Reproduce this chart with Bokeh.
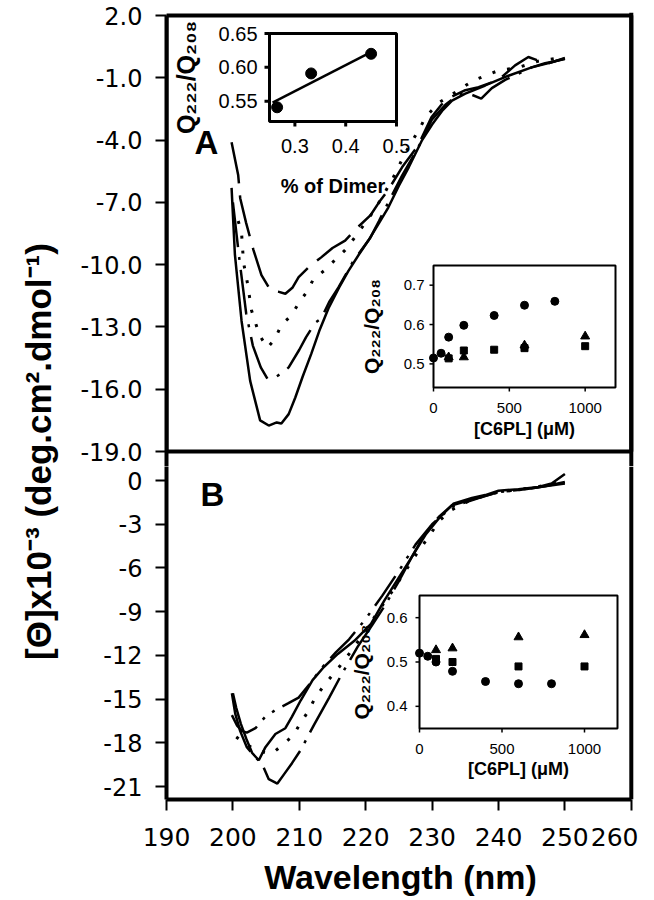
import math
from bokeh.plotting import figure
from bokeh.models import Range1d, FixedTicker, NumeralTickFormatter, Span, BoxAnnotation
from bokeh.layouts import row, column
from bokeh.core.properties import value
from bokeh.embed import file_html
from bokeh.resources import INLINE

FONT = "Liberation Sans"
TICK_FONT = "DejaVu Sans"

# ---------------- data ----------------
A_Y_TICKS = [2, -1, -4, -7, -10, -13, -16, -19]
B_Y_TICKS = [0, -3, -6, -9, -12, -15, -18, -21]
X_TICKS = [190, 200, 210, 220, 230, 240, 250, 260]

# Panel A spectra (wavelength nm, [theta] x 1e-3)
A_WL_SOLID = [199.8, 200.3, 201.3, 202.6, 204.1, 205.4, 206.6, 207.3, 208.4, 209.4, 210.5, 211.8, 213.0, 214.4, 216.0,
              217.4, 219.0, 220.4, 222.0, 223.4, 225.0, 226.5, 228.5, 230.0, 231.5, 233.0, 235.0, 238.0, 241.5, 245.0,
              248.0, 250.0]
A_SOLID = [-6.3, -9.5, -12.7, -15.6, -17.5, -17.75, -17.6, -17.65, -17.2, -16.4, -15.4, -14.3, -13.2, -12.1, -11.1,
           -10.3, -9.5, -8.84, -8.0, -7.25, -6.2, -5.3, -4.0, -3.25, -2.6, -2.1, -1.76, -1.37, -0.9, -0.5, -0.25, -0.07]

A_WL_DASH = [199.8, 200.8, 201.1, 202.0, 203.1, 204.3, 205.7, 206.8, 207.9, 209.0, 209.9, 211.5, 213.3, 215.0, 216.9,
             218.8, 220.7, 222.0, 223.4, 225.5, 227.9, 229.9, 231.4, 233.0, 235.0, 237.0, 240.0, 242.5, 244.5, 246.0,
             247.5, 250.0]
A_DASH = [-4.1, -5.7, -6.8, -8.0, -9.3, -10.5, -11.25, -11.3, -11.4, -11.1, -10.6, -10.1, -9.65, -9.2, -8.84, -8.2,
          -7.63, -7.0, -6.4, -5.3, -4.26, -2.9, -2.3, -1.9, -1.6, -1.45, -1.1, -0.4, 0.0, -0.17, -0.31, -0.05]

A_WL_DASHDOT = [200.0, 201.0, 202.0, 203.0, 204.2, 205.2, 206.5, 207.5, 208.4, 210.0, 211.0, 212.4, 213.3, 214.5, 215.9,
                218.0, 220.7, 222.0, 223.4, 225.5, 227.9, 230.0, 232.0, 234.0, 235.5, 237.4, 239.0, 241.0, 243.0, 245.0,
                247.0, 250.0]
A_DASHDOT = [-7.0, -9.8, -12.35, -13.9, -14.95, -15.5, -15.4, -15.2, -14.95, -14.1, -13.5, -12.8, -12.6, -11.8, -11.1,
             -9.9, -8.7, -7.9, -7.0, -5.7, -4.36, -3.0, -2.3, -1.8, -1.76, -2.0, -1.5, -1.1, -0.8, -0.5, -0.3, -0.1]

A_WL_DOT = [200.8, 201.3, 201.6, 202.2, 202.8, 204.0, 205.2, 206.3, 207.3, 208.8, 210.0, 211.4, 212.1, 213.7, 215.3,
            216.9, 218.8, 220.8, 221.9, 224.0, 226.0, 228.2, 229.0, 231.0, 233.0, 236.2, 240.0, 243.0, 246.0, 250.0]
A_DOT = [-7.9, -8.45, -9.9, -10.9, -12.2, -13.4, -14.0, -13.6, -12.9, -12.45, -11.8, -11.2, -10.7, -10.3, -9.8, -9.3,
         -8.5, -7.6, -7.06, -5.9, -4.6, -3.4, -2.9, -2.2, -1.8, -1.13, -0.65, -0.5, -0.2, 0.0]

# Panel B spectra
B_WL_SOLID = [200.0, 200.5, 201.2, 202.0, 202.9, 203.9, 204.9, 206.4, 207.9, 208.9, 210.2, 212.0, 213.7, 215.8, 218.3,
              220.8, 222.8, 224.1, 226.6, 229.1, 231.2, 233.2, 236.0, 238.0, 240.0, 243.0, 246.0, 248.0, 250.0]
B_SOLID = [-14.6, -15.6, -16.7, -17.7, -18.7, -19.2, -18.3, -17.4, -17.0, -16.2, -15.1, -13.7, -12.8, -11.9, -11.0,
           -9.84, -8.24, -7.3, -5.5, -3.66, -2.5, -1.6, -1.2, -1.0, -0.7, -0.6, -0.45, -0.2, 0.45]

B_WL_DASHDOT = [199.85, 200.35, 201.1, 202.1, 203.4, 204.4, 205.4, 206.7, 207.8, 208.9, 210.2, 212.3, 214.5, 216.5,
                218.8, 221.0, 223.0, 225.0, 227.0, 229.0, 231.0, 233.0, 236.0, 240.0, 244.0, 247.0, 250.0]
B_DASHDOT = [-14.6, -16.0, -17.2, -18.3, -19.0, -19.45, -20.5, -20.8, -20.1, -19.4, -18.5, -16.7, -14.9, -13.2, -11.4,
             -9.9, -8.5, -6.9, -5.2, -3.6, -2.5, -1.7, -1.3, -0.8, -0.6, -0.4, -0.1]

B_WL_DASH = [199.85, 200.6, 201.4, 202.1, 203.4, 204.9, 206.6, 208.3, 209.9, 211.5, 213.5, 215.5, 217.5, 220.0, 222.5,
             225.0, 227.5, 230.0, 233.0, 237.0, 240.0, 244.0, 247.0, 250.0]
B_DASH = [-16.1, -16.8, -17.2, -17.3, -17.0, -16.2, -15.7, -15.3, -14.9, -14.0, -12.8, -11.8, -10.9, -9.5, -7.9, -6.2,
          -4.4, -3.0, -1.8, -1.2, -0.8, -0.6, -0.4, -0.2]

B_WL_DOT = [200.5, 202.0, 203.5, 205.0, 206.0, 207.6, 209.1, 210.1, 211.4, 212.4, 214.0, 216.0, 218.0, 220.0, 222.0,
            224.0, 226.0, 228.0, 229.6, 231.0, 233.0, 236.0, 240.0, 245.0, 250.0]
B_DOT = [-17.6, -18.1, -18.5, -18.7, -18.7, -18.1, -17.5, -16.7, -15.8, -14.9, -13.9, -12.8, -11.6, -10.3, -8.9, -7.6,
         -6.2, -4.8, -3.8, -2.8, -2.0, -1.3, -0.8, -0.5, -0.1]

# Inset A1: Q222/Q208 vs % of dimer
DIMER = [0.265, 0.332, 0.45]
DIMER_Q = [0.541, 0.591, 0.620]
FIT_X = [0.256, 0.446]
FIT_Q = [0.548, 0.621]
DIMER_X_TICKS = [0.3, 0.4, 0.5]
DIMER_X_LABELS = ["0.3", "0.4", "0.5"]
DIMER_Y_TICKS = [0.55, 0.60, 0.65]
DIMER_Y_LABELS = ["0.55", "0.60", "0.65"]

# Inset A2: Q222/Q208 vs [C6PL]
A2_CIRC_C = [0, 50, 100, 200, 400, 600, 800]
A2_CIRC_Q = [0.515, 0.527, 0.568, 0.598, 0.623, 0.649, 0.659]
A2_SQ_C = [100, 200, 400, 600, 1000]
A2_SQ_Q = [0.514, 0.534, 0.536, 0.540, 0.545]
A2_TRI_C = [100, 200, 600, 1000]
A2_TRI_Q = [0.517, 0.517, 0.547, 0.570]
A2_Y_TICKS = [0.5, 0.6, 0.7]
A2_Y_LABELS = ["0.5", "0.6", "0.7"]

# Inset B
B2_CIRC_C = [0, 50, 100, 200, 400, 600, 800]
B2_CIRC_Q = [0.520, 0.513, 0.500, 0.479, 0.456, 0.451, 0.451]
B2_SQ_C = [100, 200, 600, 1000]
B2_SQ_Q = [0.507, 0.500, 0.490, 0.490]
B2_TRI_C = [100, 200, 600, 1000]
B2_TRI_Q = [0.527, 0.531, 0.556, 0.561]
B2_Y_TICKS = [0.4, 0.5, 0.6]
B2_Y_LABELS = ["0.4", "0.5", "0.6"]

C6PL_TICKS = [0, 500, 1000]
C6PL_LABELS = ["0", "500", "1000"]

Q_TITLE = "Q\u2082\u2082\u2082/Q\u2082\u2080\u2088"
Y_TITLE = "[\u0398]x10\u207b\u00b3 (deg.cm\u00b2.dmol\u207b\u00b9)"

# ---------------- layout (screen pixels, page has no margin) ----------------
LAB_W = 60
BORDER_L = 106
BORDER_R = 4
FRAME_W = 468
FIG_W = BORDER_L + FRAME_W + BORDER_R
FRAME_LEFT = LAB_W + BORDER_L              # 166
PX_NM = 6.64
X0 = 190.0
X_END = X0 + FRAME_W / PX_NM

PX_A = 436.0 / 21.0                        # px per unit, panel A (2 at y=15)
A_TOPPX, A_FRAME_TOP, SPLIT = 15.0, 12.0, 466.0
A_TOP = 2.0 + (A_TOPPX - A_FRAME_TOP) / PX_A
A_BOT = 2.0 - (SPLIT - A_TOPPX) / PX_A
A_H = int(SPLIT)
A_BT = int(A_FRAME_TOP)

PX_B = 306.0 / 21.0                        # px per unit, panel B (0 at y=480)
B_ZERO = 480.0
B_FRAME_BOT = 799.0
B_TOP = (B_ZERO - SPLIT) / PX_B
B_BOT = (B_ZERO - B_FRAME_BOT) / PX_B
B_BB = 100
B_H = int(B_FRAME_BOT - SPLIT) + B_BB


def ax_(sx):
    return X0 + (sx - FRAME_LEFT) / PX_NM


def ay_(sy):
    return 2.0 - (sy - A_TOPPX) / PX_A


def by_(sy):
    return (B_ZERO - sy) / PX_B


def style_axis(ax, ticks, fmt, size):
    ax.ticker = FixedTicker(ticks=ticks)
    ax.formatter = NumeralTickFormatter(format=fmt)
    ax.axis_line_width = 4
    ax.axis_line_color = "black"
    ax.major_tick_line_width = 2
    ax.major_tick_line_color = "black"
    ax.major_tick_out = 11
    ax.major_tick_in = 0
    ax.minor_tick_out = 0
    ax.minor_tick_in = 0
    ax.major_label_standoff = 13
    ax.major_label_text_font = TICK_FONT
    ax.major_label_text_font_size = size
    ax.major_label_text_color = "black"


def inset(fig, cx, cy, box, xr, yr, xt, xtl, yt, ytl, xtitle, ytitle, st):
    l, r, t, b = box
    sub = fig.subplot(
        x_source=Range1d(xr[0], xr[1]), y_source=Range1d(yr[0], yr[1]),
        x_target=Range1d(cx(l), cx(r)), y_target=Range1d(cy(b), cy(t)),
    )
    ux = (xr[1] - xr[0]) / (r - l)
    uy = (yr[1] - yr[0]) / (b - t)
    n, m = len(yt), len(xt)
    sub.segment(x0=[xr[0]] * n, y0=yt, x1=[xr[0] - st["tick"] * ux] * n, y1=yt,
                line_color="black", line_width=st["tick_w"])
    sub.segment(x0=xt, y0=[yr[0]] * m, x1=xt, y1=[yr[0] - st["tick"] * uy] * m,
                line_color="black", line_width=st["tick_w"])
    sub.quad(left=[xr[0]], right=[xr[1]], bottom=[yr[0]], top=[yr[1]], fill_color=None,
             line_color="black", line_width=st["frame_w"])
    tf = dict(text_font=value(FONT), text_color="black")
    sub.text(x=[xr[0]] * n, y=yt, text=ytl, x_offset=st["ytl_dx"], text_align="right",
             text_baseline="middle", text_font_size=value(st["tick_fs"]), **tf)
    sub.text(x=xt, y=[yr[0]] * m, text=xtl, y_offset=st["xtl_dy"], text_align="center",
             text_baseline="middle", text_font_size=value(st["tick_fs"]), **tf)
    sub.text(x=[(xr[0] + xr[1]) / 2], y=[yr[0]], text=[xtitle], y_offset=st["xt_dy"],
             x_offset=st.get("xt_dx", 0), text_align="center", text_baseline="middle",
             text_font_size=value(st["xtitle_fs"]), text_font_style="bold", **tf)
    sub.text(x=[xr[0]], y=[(yr[0] + yr[1]) / 2], text=[ytitle], x_offset=st["yt_dx"],
             y_offset=st.get("yt_dy", 0), angle=math.pi / 2, text_align="center",
             text_baseline="middle", text_font_size=value(st["ytitle_fs"]), text_font_style="bold", **tf)
    return sub


def base_fig(height, y_range, top_border, bottom_border, with_x):
    p = figure(width=FIG_W, height=height, x_range=Range1d(X0, X_END), y_range=y_range,
               x_axis_location="below" if with_x else None, y_axis_location="left",
               toolbar_location=None, output_backend="svg",
               min_border_left=BORDER_L, min_border_right=BORDER_R,
               min_border_top=top_border, min_border_bottom=bottom_border)
    p.outline_line_color = None
    p.grid.visible = False
    p.background_fill_color = "white"
    p.border_fill_color = "white"
    return p


# ---------------- panel A ----------------
figA = base_fig(A_H, Range1d(A_BOT, A_TOP), A_BT, 0, False)
style_axis(figA.yaxis[0], A_Y_TICKS, "0.0", "24px")
figA.yaxis[0].bounds = (A_BOT, 2.0)
figA.add_layout(BoxAnnotation(left=190, right=260, top=2, bottom=-19, fill_color=None, fill_alpha=0,
                              line_color="black", line_alpha=1.0, line_width=4))
figA.add_layout(Span(location=260, dimension="height", line_color="black", line_width=4))

lw = 2.5
figA.line(A_WL_SOLID, A_SOLID, line_color="black", line_width=lw)
figA.line(A_WL_DASH, A_DASH, line_color="black", line_width=lw, line_dash="42 12")
figA.line(A_WL_DASHDOT, A_DASHDOT, line_color="black", line_width=lw, line_dash="45 10 3 10")
figA.line(A_WL_DOT, A_DOT, line_color="black", line_width=3, line_dash="3 12")

figA.text(x=[ax_(206)], y=[ay_(142)], text=["A"], text_font=value(FONT), text_font_size=value("33px"),
          text_font_style="bold", text_align="center", text_baseline="middle", text_color="black")

big = dict(tick=5, tick_w=3, frame_w=3, tick_fs="20px", xtitle_fs="20px", ytitle_fs="25px",
           ytl_dx=-12, xtl_dy=24, xt_dy=64, yt_dx=-84)
s1 = inset(figA, ax_, ay_, (269, 396, 33, 121), (0.25, 0.5), (0.52, 0.65),
           DIMER_X_TICKS, DIMER_X_LABELS, DIMER_Y_TICKS, DIMER_Y_LABELS, "% of Dimer", Q_TITLE, big)
s1.line(FIT_X, FIT_Q, line_color="black", line_width=2.5)
s1.scatter(DIMER, DIMER_Q, marker="circle", size=11, color="black")

small = dict(tick=4, tick_w=1.5, frame_w=2, tick_fs="15px", xtitle_fs="18px", ytitle_fs="21px",
             ytl_dx=-9, xtl_dy=20, xt_dy=41, yt_dx=-62)
s2 = inset(figA, ax_, ay_, (433, 615, 265, 387), (0, 1200), (0.44, 0.75),
           C6PL_TICKS, C6PL_LABELS, A2_Y_TICKS, A2_Y_LABELS, "[C6PL] (\u03bcM)", Q_TITLE, small)
s2.scatter(A2_TRI_C, A2_TRI_Q, marker="triangle", size=9, color="black")
s2.scatter(A2_SQ_C, A2_SQ_Q, marker="square", size=7, color="black")
s2.scatter(A2_CIRC_C, A2_CIRC_Q, marker="circle", size=8, color="black")

# ---------------- panel B ----------------
figB = base_fig(B_H, Range1d(B_BOT, B_TOP), 0, B_BB, True)
style_axis(figB.yaxis[0], B_Y_TICKS, "0", "24px")
style_axis(figB.xaxis[0], X_TICKS, "0", "25px")
figB.xaxis[0].bounds = (190, 260)
figB.xaxis[0].major_label_standoff = 17
figB.xaxis[0].axis_label = "Wavelength (nm)"
figB.xaxis[0].axis_label_text_font = FONT
figB.xaxis[0].axis_label_text_font_size = "34px"
figB.xaxis[0].axis_label_text_font_style = "bold"
figB.xaxis[0].axis_label_text_color = "black"
figB.xaxis[0].axis_label_standoff = 9
figB.add_layout(Span(location=260, dimension="height", line_color="black", line_width=4))

figB.line(B_WL_SOLID, B_SOLID, line_color="black", line_width=lw)
figB.line(B_WL_DASHDOT, B_DASHDOT, line_color="black", line_width=lw, line_dash="62 9 3 9")
figB.line(B_WL_DASH, B_DASH, line_color="black", line_width=lw, line_dash="36 9 3 9 3 9")
figB.line(B_WL_DOT, B_DOT, line_color="black", line_width=3, line_dash="3 12")

figB.text(x=[ax_(212)], y=[by_(494)], text=["B"], text_font=value(FONT), text_font_size=value("33px"),
          text_font_style="bold", text_align="center", text_baseline="middle", text_color="black")

smallB = dict(small, ytl_dx=-12, xtl_dy=20, xt_dy=40, yt_dx=-58, yt_dy=10)
s3 = inset(figB, ax_, by_, (419, 617, 595, 728), (0, 1200), (0.35, 0.65),
           C6PL_TICKS, C6PL_LABELS, B2_Y_TICKS, B2_Y_LABELS, "[C6PL] (\u03bcM)", Q_TITLE, smallB)
s3.scatter(B2_TRI_C, B2_TRI_Q, marker="triangle", size=9, color="black")
s3.scatter(B2_SQ_C, B2_SQ_Q, marker="square", size=7, color="black")
s3.scatter(B2_CIRC_C, B2_CIRC_Q, marker="circle", size=8, color="black")

# ---------------- shared y label ----------------
TOTAL_H = A_H + B_H
lab = figure(width=LAB_W, height=TOTAL_H, x_range=Range1d(0, LAB_W), y_range=Range1d(0, TOTAL_H),
             x_axis_location=None, y_axis_location=None, toolbar_location=None, output_backend="svg",
             min_border=0, min_border_left=0, min_border_right=0, min_border_top=0, min_border_bottom=0)
lab.outline_line_color = None
lab.grid.visible = False
lab.text(x=[38], y=[TOTAL_H - 451], text=[Y_TITLE], angle=math.pi / 2,
         text_font=value(FONT), text_font_size=value("35px"), text_font_style="bold",
         text_align="center", text_baseline="middle", text_color="black")

layout = row(lab, column(figA, figB))
open("out.html", "w").write(file_html(layout, INLINE))
